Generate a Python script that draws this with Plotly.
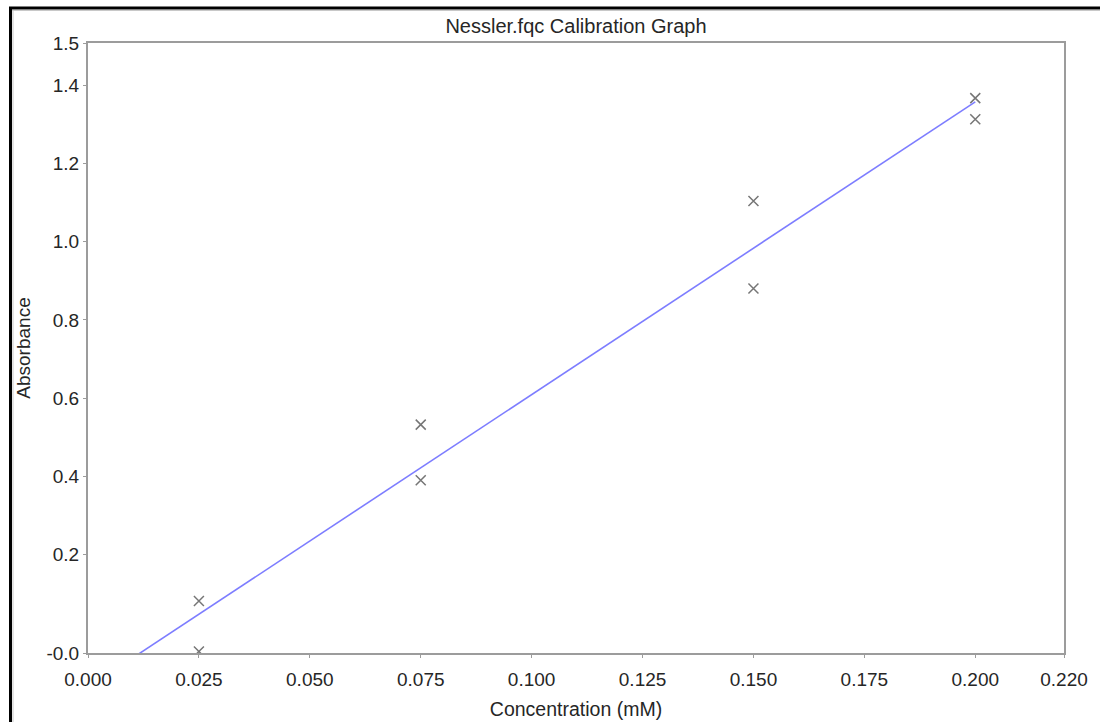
import numpy as np
import plotly.graph_objects as go

# ---- data ----
concentration = [0.025, 0.025, 0.075, 0.075, 0.150, 0.150, 0.200, 0.200]
absorbance = [0.081, -0.048, 0.532, 0.390, 1.104, 0.880, 1.367, 1.313]

x_tick_vals = [0.000, 0.025, 0.050, 0.075, 0.100, 0.125, 0.150, 0.175, 0.200, 0.220]
x_tick_text = ["0.000", "0.025", "0.050", "0.075", "0.100", "0.125", "0.150", "0.175", "0.200", "0.220"]

y_min, y_max = -0.052, 1.508
y_tick_vals = [y_min, 0.2, 0.4, 0.6, 0.8, 1.0, 1.2, 1.4, y_max]
y_tick_text = ["-0.0", "0.2", "0.4", "0.6", "0.8", "1.0", "1.2", "1.4", "1.5"]

# linear calibration fit from the data
slope, intercept = np.polyfit(concentration, absorbance, 1)
fit_x = np.array([0.0, max(concentration)])
fit_y = slope * fit_x + intercept

FONT = "Liberation Sans, Arial, sans-serif"
AXIS_GREY = "#9c9c9c"
TEXT = "#262626"
MARK = "#767676"

fig = go.Figure()
fig.add_trace(go.Scatter(
    x=fit_x, y=fit_y, mode="lines",
    line=dict(color="#7d7dff", width=1.6),
    showlegend=False, hoverinfo="skip",
))
fig.add_trace(go.Scatter(
    x=concentration, y=absorbance, mode="markers",
    marker=dict(symbol="x-thin-open", size=10, color=MARK, line=dict(color=MARK, width=1.5)),
    showlegend=False,
))

L, R, T, B = 88, 36, 43, 69
W, H = 1100, 722
pw, ph = W - L - R, H - T - B

def px(xp):
    return (xp - L) / pw

def py(yp):
    return (H - B - yp) / ph

fig.update_layout(
    width=W, height=H,
    margin=dict(l=L, r=R, t=T, b=B),
    paper_bgcolor="white", plot_bgcolor="white",
    font=dict(family=FONT, size=19, color=TEXT),
    title=dict(text="Nessler.fqc Calibration Graph", x=0.5 * (L + W - R) / W, xanchor="center",
               y=1 - 26 / H, yanchor="middle", font=dict(size=20, color=TEXT)),
    xaxis=dict(
        range=[0, 0.22], tickvals=x_tick_vals, ticktext=x_tick_text,
        showgrid=False, zeroline=False, automargin=False,
        showline=True, linecolor=AXIS_GREY, linewidth=2, mirror=True,
        ticks="outside", ticklen=3, tickwidth=1, tickcolor=AXIS_GREY,
        ticklabelstandoff=5,
        title=dict(text="Concentration (mM)", standoff=14, font=dict(size=19.5, color=TEXT)),
        tickfont=dict(size=19, color=TEXT),
    ),
    yaxis=dict(
        range=[y_min, y_max], tickvals=y_tick_vals, ticktext=y_tick_text,
        showgrid=False, zeroline=False, automargin=False,
        showline=True, linecolor=AXIS_GREY, linewidth=2, mirror=True,
        ticks="outside", ticklen=3, tickwidth=1, tickcolor=AXIS_GREY,
        title=dict(text="Absorbance", standoff=11, font=dict(size=19, color=TEXT)),
        tickfont=dict(size=19, color=TEXT),
    ),
    shapes=[
        dict(type="line", xref="paper", yref="paper", x0=px(10.5), x1=px(10.5), y0=py(7), y1=py(H + 5),
             line=dict(color="black", width=3)),
        dict(type="line", xref="paper", yref="paper", x0=px(9), x1=px(W + 5), y0=py(8), y1=py(8),
             line=dict(color="black", width=3)),
        dict(type="line", xref="paper", yref="paper", x0=px(13), x1=px(13), y0=py(10), y1=py(H + 5),
             line=dict(color="#c8c8c8", width=1)),
        dict(type="line", xref="paper", yref="paper", x0=px(12), x1=px(W + 5), y0=py(10.5), y1=py(10.5),
             line=dict(color="#c8c8c8", width=1)),
    ],
)

fig.write_html("out.html")
